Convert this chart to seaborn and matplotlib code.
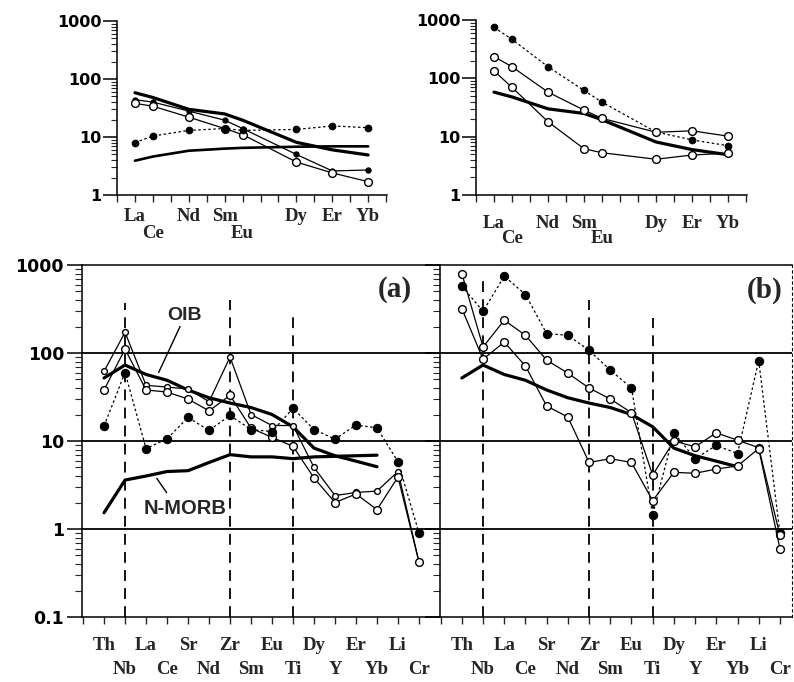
import numpy as np
import pandas as pd
import matplotlib
matplotlib.use("Agg")
import matplotlib.pyplot as plt
import seaborn as sns
from matplotlib.ticker import FixedLocator, FixedFormatter, LogLocator, NullFormatter

sns.set_theme(style="white")
plt.rcParams["font.family"] = ["DejaVu Sans"]

# ---------------- data ----------------
full_ree = ["La", "Ce", "Pr", "Nd", "Pm", "Sm", "Eu", "Gd", "Tb", "Dy", "Ho", "Er", "Tm", "Yb", "Lu"]
ree_elements = ["La", "Ce", "Nd", "Sm", "Eu", "Dy", "Er", "Yb"]

ree_oib = [58, 48, 30, 25, 19.5, 8.1, 6.0, 4.9]
ree_nmorb = [3.9, 4.6, 5.8, 6.3, 6.5, 6.8, 6.9, 6.9]

# upper-left (group a)
ree_a1 = [44, 40, 28, 19.5, 14, 5.0, 2.6, 2.7]
ree_a2 = [38, 34, 22, 14, 11, 3.7, 2.4, 1.7]
ree_a3 = [8.0, 10.4, 13, 14, 13, 13.5, 15.5, 14.5]
# upper-right (group b)
ree_b1 = [750, 465, 158, 62, 39, 12, 8.8, 7.0]
ree_b2 = [236, 158, 58, 28.5, 20.6, 11.9, 12.6, 10.2]
ree_b3 = [134, 70, 18, 6.2, 5.3, 4.1, 4.85, 5.2]

spider_elements = ["Th", "Nb", "La", "Ce", "Sr", "Nd", "Zr", "Sm", "Eu", "Ti",
                   "Dy", "Y", "Er", "Yb", "Li", "Cr"]
spider_oib = [52, 73, 57, 49, 38, 31, 27, 24, 20, 14.5, 8.3, 6.8, 5.9, 5.1]
spider_nmorb = [1.53, 3.6, 4.0, 4.5, 4.6, 5.7, 7.0, 6.6, 6.6, 6.3, 6.6, 6.7, 6.8, 6.9]

spider_a1 = [62, 172, 43, 41, 39, 28, 90, 20, 15, 15, 5.0, 2.4, 2.6, 2.7, 4.5, 0.42]
spider_a2 = [38, 111, 38, 36, 30, 22, 33, 14, 11, 8.7, 3.8, 2.0, 2.5, 1.66, 3.9, 0.42]
spider_a3 = [14.8, 60, 8.2, 10.6, 18.5, 13.2, 19.5, 13.5, 12.8, 23.5, 13.5, 10.5, 15.2, 14.1, 5.8, 0.9]

spider_b1 = [575, 298, 745, 462, 166, 159, 107, 64, 40, 1.45, 12.4, 6.3, 8.9, 7.2, 82, 0.9]
spider_b2 = [800, 117, 236, 159, 83, 59, 40, 30, 21, 4.1, 10.0, 8.6, 12.4, 10.2, 8.4, 0.85]
spider_b3 = [320, 85, 133, 71, 25, 18.7, 5.7, 6.3, 5.7, 2.1, 4.4, 4.3, 4.8, 5.2, 8.2, 0.6]

# ---------------- styles ----------------
SERIF = ["Liberation Serif", "DejaVu Serif"]
SANS = ["DejaVu Sans"]

thick = dict(color="black", lw=2.3, marker=None)
small_open = dict(color="black", lw=0.9, marker="o", markersize=4.2,
                  markerfacecolor="white", markeredgecolor="black", markeredgewidth=1.0)
big_open = dict(color="black", lw=0.9, marker="o", markersize=5.6,
                markerfacecolor="white", markeredgecolor="black", markeredgewidth=1.0)
small_fill = dict(color="black", lw=0.9, marker="o", markersize=3.8,
                  markerfacecolor="black", markeredgecolor="black")
filled_dot = dict(color="black", lw=0.9, linestyle=(0, (2, 2)), marker="o", markersize=6.0,
                  markerfacecolor="black", markeredgecolor="black")
filled_dot_small = dict(filled_dot, markersize=4.8)


def draw(ax, xs, ys, style):
    df = pd.DataFrame({"x": xs, "y": ys})
    sns.lineplot(data=df, x="x", y="y", ax=ax, estimator=None, sort=False,
                 legend=False, **style)


fig = plt.figure(figsize=(7.94, 6.82), dpi=100)
W, H = 794.0, 682.0


def axes_px(x0, y0, x1, y1):
    return fig.add_axes([x0 / W, 1 - y1 / H, (x1 - x0) / W, (y1 - y0) / H])


ree_x = [full_ree.index(e) + 1 for e in ree_elements]


def setup_top(ax, label_offsets):
    ax.set_yscale("log")
    ax.set_ylim(1, 1000)
    ax.set_xlim(0, 15.05)
    for s in ["top", "right"]:
        ax.spines[s].set_visible(False)
    for s in ["left", "bottom"]:
        ax.spines[s].set_color("black")
        ax.spines[s].set_linewidth(1.1)
    ax.yaxis.set_major_locator(FixedLocator([1, 10, 100, 1000]))
    ax.yaxis.set_major_formatter(FixedFormatter(["1", "10", "100", "1000"]))
    ax.yaxis.set_minor_locator(LogLocator(base=10, subs=np.arange(2, 10)))
    ax.yaxis.set_minor_formatter(NullFormatter())
    ax.xaxis.set_major_locator(FixedLocator(list(range(0, 16))))
    ax.xaxis.set_major_formatter(NullFormatter())
    ax.tick_params(axis="y", which="major", direction="out", length=10, width=1.1,
                   pad=1, labelsize=11.5, colors="black", left=True)
    ax.tick_params(axis="y", which="minor", direction="out", length=4, width=0.8, left=True)
    ax.tick_params(axis="x", which="major", direction="out", length=5, width=1.0, bottom=True)
    for lab in ax.get_yticklabels():
        lab.set_fontweight("bold")
        lab.set_family(SANS)
    ax.set_xlabel("")
    ax.set_ylabel("")
    tr = ax.get_xaxis_transform()
    for i, (e, xx) in enumerate(zip(ree_elements, ree_x)):
        lower = e in ("Ce", "Eu")
        ax.text(xx, label_offsets[1] if lower else label_offsets[0], e, transform=tr,
                ha="center", va="center", fontsize=13.5, fontweight="bold", family=SERIF)


# ---------- top left ----------
ax1 = axes_px(117, 21, 387, 195)
setup_top(ax1, (-0.125, -0.22))
draw(ax1, ree_x, ree_oib, thick)
draw(ax1, ree_x, ree_nmorb, dict(color="black", lw=1.9, marker=None))
draw(ax1, ree_x, ree_a1, small_fill)
draw(ax1, ree_x, ree_a2, big_open)
draw(ax1, ree_x, ree_a3, filled_dot_small)
ax1.set_xlim(0, 15.05)
ax1.set_xlabel(""); ax1.set_ylabel("")

# ---------- top right ----------
ax2 = axes_px(476, 20, 747, 195)
setup_top(ax2, (-0.16, -0.25))
draw(ax2, ree_x, ree_oib, thick)
draw(ax2, ree_x, ree_b1, filled_dot_small)
draw(ax2, ree_x, ree_b2, big_open)
draw(ax2, ree_x, ree_b3, big_open)
ax2.set_xlim(0, 15.05)
ax2.set_xlabel(""); ax2.set_ylabel("")

# ---------- main panels ----------
sx = list(range(len(spider_elements)))
ref_x = sx[:len(spider_oib)]


def setup_main(ax, show_ylabels, dash_tops, xlim):
    ax.set_yscale("log")
    ax.set_ylim(0.1, 1000)
    ax.set_xlim(*xlim)
    for s in ax.spines.values():
        s.set_color("black")
        s.set_linewidth(1.1)
    ax.yaxis.set_major_locator(FixedLocator([0.1, 1, 10, 100, 1000]))
    ax.yaxis.set_major_formatter(FixedFormatter(["0.1", "1", "10", "100", "1000"]))
    ax.yaxis.set_minor_locator(LogLocator(base=10, subs=np.arange(2, 10)))
    ax.yaxis.set_minor_formatter(NullFormatter())
    ax.xaxis.set_major_locator(FixedLocator(list(range(-1, 16))))
    ax.xaxis.set_major_formatter(NullFormatter())
    ax.tick_params(axis="y", which="major", direction="out", length=11, width=1.1,
                   pad=2, labelsize=12.5, colors="black", left=True, labelleft=show_ylabels)
    ax.tick_params(axis="y", which="minor", direction="out", length=5, width=0.8, left=True)
    ax.tick_params(axis="x", which="major", direction="out", length=5, width=1.0, bottom=True)
    for lab in ax.get_yticklabels():
        lab.set_fontweight("bold")
        lab.set_family(SANS)
    for yv in (1, 10, 100):
        ax.axhline(yv, color="black", lw=1.3, zorder=1)
    for e, top in zip(["Nb", "Zr", "Ti"], dash_tops):
        ax.vlines(spider_elements.index(e), 0.1, top, colors="black", lw=1.3,
                  linestyles=(0, (6, 4)), zorder=1)
    tr = ax.get_xaxis_transform()
    for i, e in enumerate(spider_elements):
        yy = -0.080 if i % 2 == 0 else -0.148
        ax.text(i, yy, e, transform=tr, ha="center", va="center", fontsize=13.5,
                fontweight="bold", family=SERIF)


axa = axes_px(82, 265, 440, 617)
setup_main(axa, True, (370, 400, 257), (-1.05, 16.0))
axa.spines["right"].set_visible(False)
draw(axa, ref_x, spider_oib, thick)
draw(axa, ref_x, spider_nmorb, thick)
draw(axa, sx, spider_a1, small_open)
draw(axa, sx, spider_a2, big_open)
draw(axa, sx, spider_a3, filled_dot)
axa.set_xlim(-1.05, 16.0)
axa.set_xlabel(""); axa.set_ylabel("")
axa.text(3.84, 267, "OIB", ha="center", va="center", fontsize=14, fontweight="bold",
         family=["Liberation Sans", "DejaVu Sans"])
axa.plot([3.62, 2.6], [200, 60], color="black", lw=1.0)
axa.text(3.87, 1.71, "N-MORB", ha="center", va="center", fontsize=14.5, fontweight="bold",
         family=["Liberation Sans", "DejaVu Sans"])
axa.plot([2.51, 2.98], [3.77, 2.59], color="black", lw=1.0)
axa.text(13.86, 533, "(a)", ha="center", va="center", fontsize=21, family=SERIF,
         fontweight="bold")

axb = axes_px(440, 265, 792, 617)
setup_main(axb, False, (675, 400, 250), (-1.03, 15.57))
axb.spines["right"].set_linestyle((0, (2, 3)))
axb.spines["right"].set_linewidth(0.8)
draw(axb, ref_x, spider_oib, thick)
draw(axb, sx, spider_b1, filled_dot)
draw(axb, sx, spider_b2, big_open)
draw(axb, sx, spider_b3, big_open)
axb.set_xlim(-1.03, 15.57)
axb.set_xlabel(""); axb.set_ylabel("")
axb.text(14.27, 522, "(b)", ha="center", va="center", fontsize=21, family=SERIF,
         fontweight="bold")

fig.savefig("out.png", dpi=100)
